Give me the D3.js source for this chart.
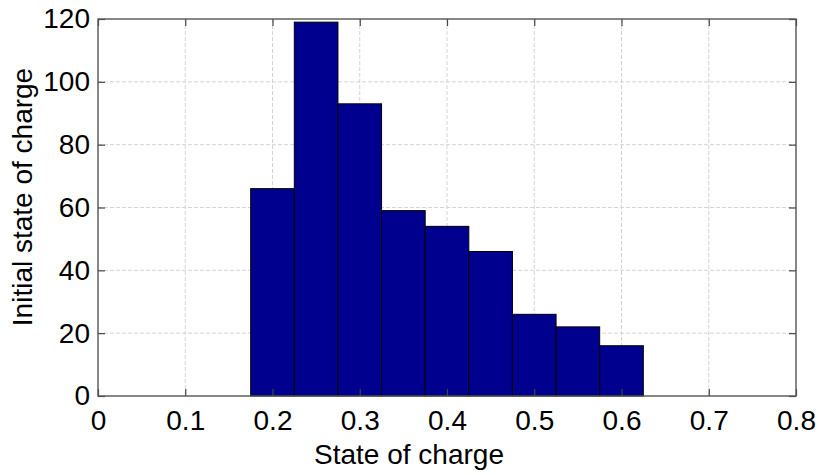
<!DOCTYPE html>
<html>
<head>
<meta charset="utf-8">
<script src="https://cdn.jsdelivr.net/npm/d3@7"></script>
<style>
  body { margin: 0; background: #fff; }
  svg { display: block; }
</style>
</head>
<body>
<div id="chart"></div>
<script>
// histogram bins (left edge, right edge) and counts
const binEdges = [0.175, 0.225, 0.275, 0.325, 0.375, 0.425, 0.475, 0.525, 0.575, 0.625];
const counts = [66, 119, 93, 59, 54, 46, 26, 22, 16];
const xTicks = [0, 0.1, 0.2, 0.3, 0.4, 0.5, 0.6, 0.7, 0.8];
const yTicks = [0, 20, 40, 60, 80, 100, 120];
const xLabel = "State of charge";
const yLabel = "Initial state of charge";

const width = 818, height = 475;
const margin = { top: 19, right: 22, bottom: 79, left: 98 };
const innerW = width - margin.left - margin.right;
const innerH = height - margin.top - margin.bottom;
const fontSize = 28;

const svg = d3.select("#chart").append("svg")
  .attr("width", width)
  .attr("height", height)
  .attr("font-family", "Liberation Sans, Arial, sans-serif");

const g = svg.append("g").attr("transform", `translate(${margin.left},${margin.top})`);

const x = d3.scaleLinear().domain([0, 0.8]).range([0, innerW]);
const y = d3.scaleLinear().domain([0, 120]).range([innerH, 0]);

const bins = counts.map((c, i) => ({ x0: binEdges[i], x1: binEdges[i + 1], value: c }));

// grid
g.selectAll("line.gx")
  .data(xTicks.slice(1, -1))
  .join("line")
  .attr("class", "gx")
  .attr("x1", d => x(d)).attr("x2", d => x(d))
  .attr("y1", 0).attr("y2", innerH)
  .attr("stroke", "#d4d4d4")
  .attr("stroke-dasharray", "4,2");

g.selectAll("line.gy")
  .data(yTicks.slice(1, -1))
  .join("line")
  .attr("class", "gy")
  .attr("x1", 0).attr("x2", innerW)
  .attr("y1", d => y(d)).attr("y2", d => y(d))
  .attr("stroke", "#d4d4d4")
  .attr("stroke-dasharray", "4,2");

// bars
g.selectAll("rect.bar")
  .data(bins)
  .join("rect")
  .attr("class", "bar")
  .attr("x", d => x(d.x0))
  .attr("width", d => x(d.x1) - x(d.x0))
  .attr("y", d => y(d.value))
  .attr("height", d => innerH - y(d.value))
  .attr("fill", "#00008F")
  .attr("stroke", "#000")
  .attr("stroke-width", 1);

// axes (ticks pointing inward, mirrored on top/right)
const tickLen = 7;
const styleAxis = sel => {
  sel.select(".domain").remove();
  sel.selectAll(".tick line").attr("stroke", "#444").attr("stroke-width", 1.2);
  sel.selectAll(".tick text").attr("fill", "#000").attr("font-size", fontSize);
};

g.append("g")
  .attr("transform", `translate(0,${innerH})`)
  .call(d3.axisBottom(x).tickValues(xTicks).tickSize(-tickLen).tickPadding(14).tickFormat(d3.format("")))
  .call(styleAxis);

g.append("g")
  .call(d3.axisTop(x).tickValues(xTicks).tickSize(-tickLen).tickFormat(""))
  .call(styleAxis);

g.append("g")
  .call(d3.axisLeft(y).tickValues(yTicks).tickSize(-tickLen).tickPadding(8))
  .call(styleAxis);

g.append("g")
  .attr("transform", `translate(${innerW},0)`)
  .call(d3.axisRight(y).tickValues(yTicks).tickSize(-tickLen).tickFormat(""))
  .call(styleAxis);

// box
g.append("rect")
  .attr("width", innerW).attr("height", innerH)
  .attr("fill", "none")
  .attr("stroke", "#555")
  .attr("stroke-width", 1.4);

// labels
svg.append("text")
  .attr("x", 409)
  .attr("y", 464)
  .attr("text-anchor", "middle")
  .attr("font-size", fontSize)
  .text(xLabel);

svg.append("text")
  .attr("transform", `translate(32,197) rotate(-90)`)
  .attr("text-anchor", "middle")
  .attr("font-size", fontSize)
  .text(yLabel);
</script>
</body>
</html>
